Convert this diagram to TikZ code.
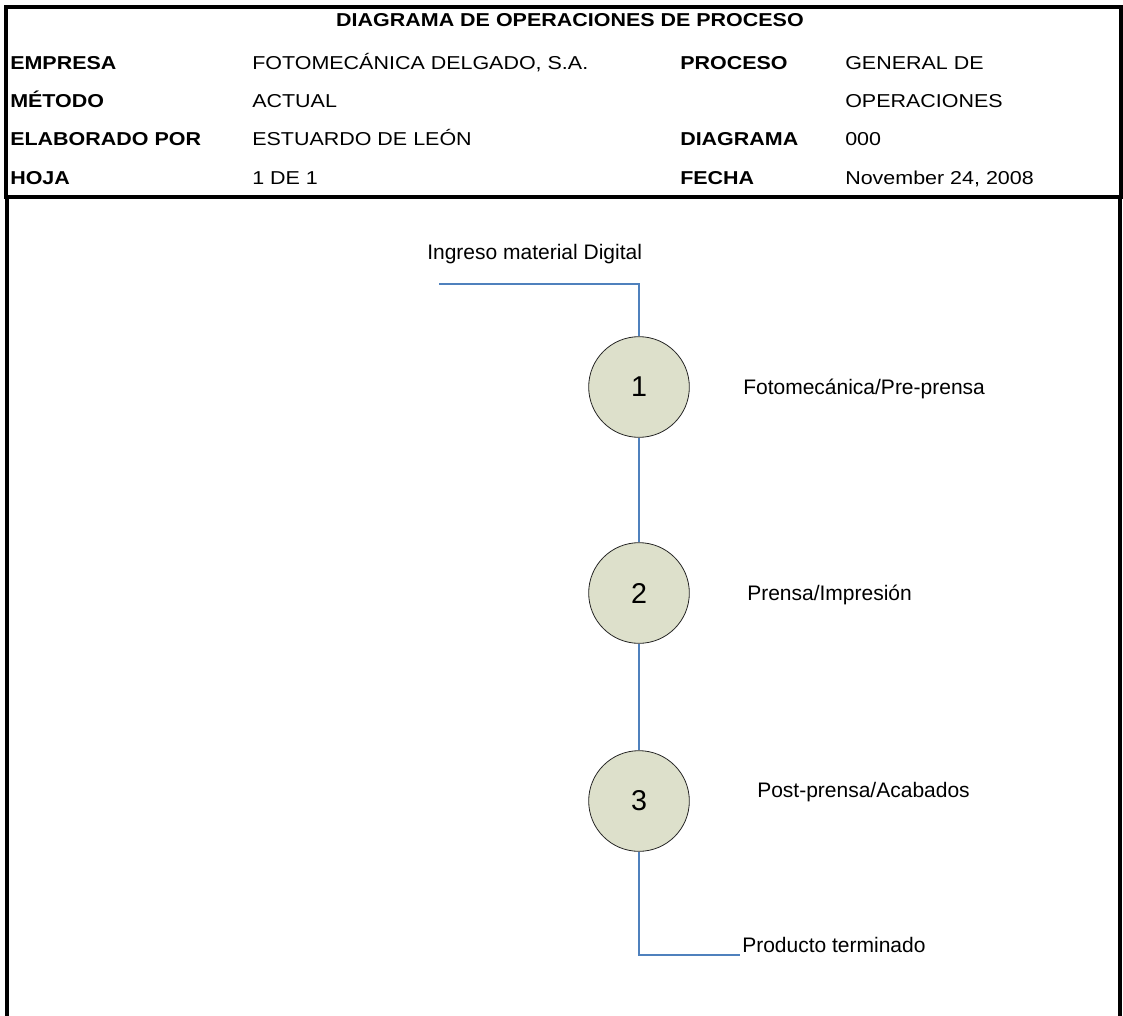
\documentclass[tikz,border=0pt]{standalone}
\usepackage{fontspec}
\setmainfont{Liberation Sans}
\newfontfamily\hdrfont[FakeStretch=1.15]{Liberation Sans}
\definecolor{flowblue}{RGB}{79,129,189}
\definecolor{opfill}{RGB}{221,224,203}
\begin{document}
\begin{tikzpicture}[x=0.75pt,y=-0.75pt,
  frame/.style={line width=2.5pt},
  hdr/.style={font=\hdrfont\fontsize{14pt}{16pt}\selectfont, anchor=base west, inner sep=0pt},
  hdrb/.style={font=\hdrfont\bfseries\fontsize{14pt}{16pt}\selectfont, anchor=base west, inner sep=0pt},
  lbl/.style={font=\fontsize{15.75pt}{18pt}\selectfont, anchor=base west, inner sep=0pt},
  op/.style={circle, draw=black!85, line width=0.6pt, fill=opfill, minimum size=75.5pt, inner sep=0pt,
             font=\fontsize{21.5pt}{24pt}\selectfont},
  flow/.style={draw=flowblue, line width=2.1pt}]
\useasboundingbox (0,0) rectangle (1123,1016);

% header block
\draw[frame] (6,7) rectangle (1121,197);
\node[hdrb, anchor=base] (title) at (570,27) {DIAGRAMA DE OPERACIONES DE PROCESO};
\node[hdrb] (k1) at (10,70) {EMPRESA};
\node[hdr]  (v1) at (252,70) {FOTOMECÁNICA DELGADO, S.A.};
\node[hdrb] (k2) at (10,108) {MÉTODO};
\node[hdr]  (v2) at (252,108) {ACTUAL};
\node[hdrb] (k3) at (10,146) {ELABORADO POR};
\node[hdr]  (v3) at (252,146) {ESTUARDO DE LEÓN};
\node[hdrb] (k4) at (10,185) {HOJA};
\node[hdr]  (v4) at (252,185) {1 DE 1};
\node[hdrb] (k5) at (680,70) {PROCESO};
\node[hdr]  (v5) at (845,70) {GENERAL DE};
\node[hdr]  (v6) at (845,108) {OPERACIONES};
\node[hdrb] (k7) at (680,146) {DIAGRAMA};
\node[hdr]  (v7) at (845,146) {000};
\node[hdrb] (k8) at (680,185) {FECHA};
\node[hdr]  (v8) at (845,185) {November 24, 2008};

% drawing area
\draw[frame] (7,199) -- (7,1016);
\draw[frame] (1120,199) -- (1120,1016);

% operations
\node[op] (o1) at (639,387) {1};
\node[op] (o2) at (639,593) {2};
\node[op] (o3) at (639,801) {3};

\coordinate (in0) at (439,284);
\coordinate (in1) at (639,284);
\coordinate (out0) at (639,955);
\coordinate (out1) at (740,955);

\draw[flow] (in0) -- (in1) -- (o1.north);
\draw[flow] (o1) -- (o2);
\draw[flow] (o2) -- (o3);
\draw[flow] (o3.south) -- (out0) -- (out1);

% labels
\node[lbl] (tin) at (427,259) {Ingreso material Digital};
\node[lbl] (t1) at (743,394) {Fotomecánica/Pre-prensa};
\node[lbl] (t2) at (747,600) {Prensa/Impresión};
\node[lbl] (t3) at (757,797) {Post-prensa/Acabados};
\node[lbl] (tout) at (742,952) {Producto terminado};
\end{tikzpicture}
\end{document}
